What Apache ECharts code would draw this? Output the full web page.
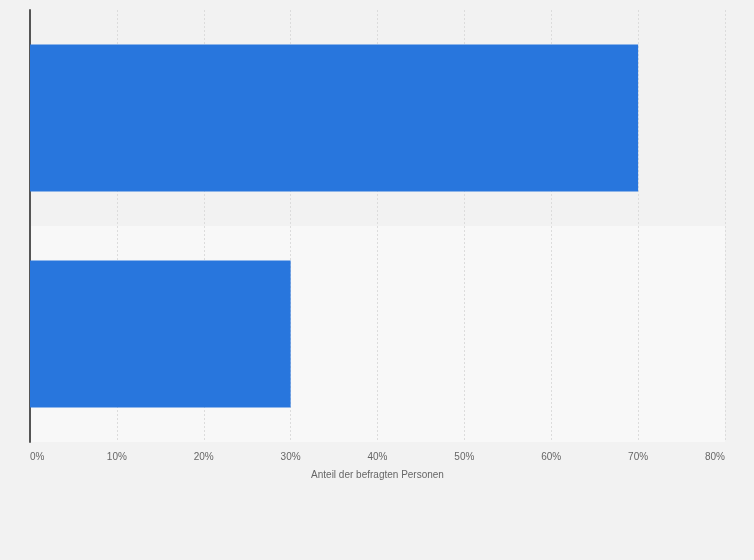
<!DOCTYPE html>
<html><head><meta charset="utf-8">
<script src="https://cdn.jsdelivr.net/npm/echarts@6/dist/echarts.min.js"></script>
<style>html,body{margin:0;padding:0;background:#f2f2f2;}#c{width:754px;height:560px;}</style>
</head><body><div id="c"></div>
<script>
const categories = ['Ja', 'Nein'];
const values = [70, 30];
const xTicks = [0, 10, 20, 30, 40, 50, 60, 70, 80];
const axisTitle = 'Anteil der befragten Personen';

const chart = echarts.init(document.getElementById('c'));
chart.setOption({
  backgroundColor: '#f2f2f2',
  animation: false,
  grid: { left: 30, right: 29, top: 10, bottom: 118, containLabel: false },
  xAxis: {
    type: 'value', min: xTicks[0], max: xTicks[xTicks.length - 1], interval: 10,
    name: axisTitle, nameLocation: 'middle', nameGap: 28,
    nameTextStyle: { color: '#666', fontSize: 10, fontFamily: 'Liberation Sans, Arial, sans-serif' },
    axisLine: { show: false }, axisTick: { show: false },
    axisLabel: { formatter: '{value}%', color: '#666', fontSize: 10, margin: 10,
      alignMinLabel: 'left', alignMaxLabel: 'right',
      fontFamily: 'Liberation Sans, Arial, sans-serif' },
    splitLine: { show: true, lineStyle: { color: '#dcdcdc', type: [2, 2], width: 1 } }
  },
  yAxis: {
    type: 'category', data: categories, inverse: true,
    axisLine: { show: true, lineStyle: { color: '#555', width: 2 } },
    axisTick: { show: false }, axisLabel: { show: false },
    splitArea: { show: true, areaStyle: { color: ['#f2f2f2', '#f8f8f8'] } }
  },
  series: [{
    type: 'bar', data: values, barCategoryGap: '32%',
    itemStyle: { color: '#2876dd' }
  }]
});
</script></body></html>
